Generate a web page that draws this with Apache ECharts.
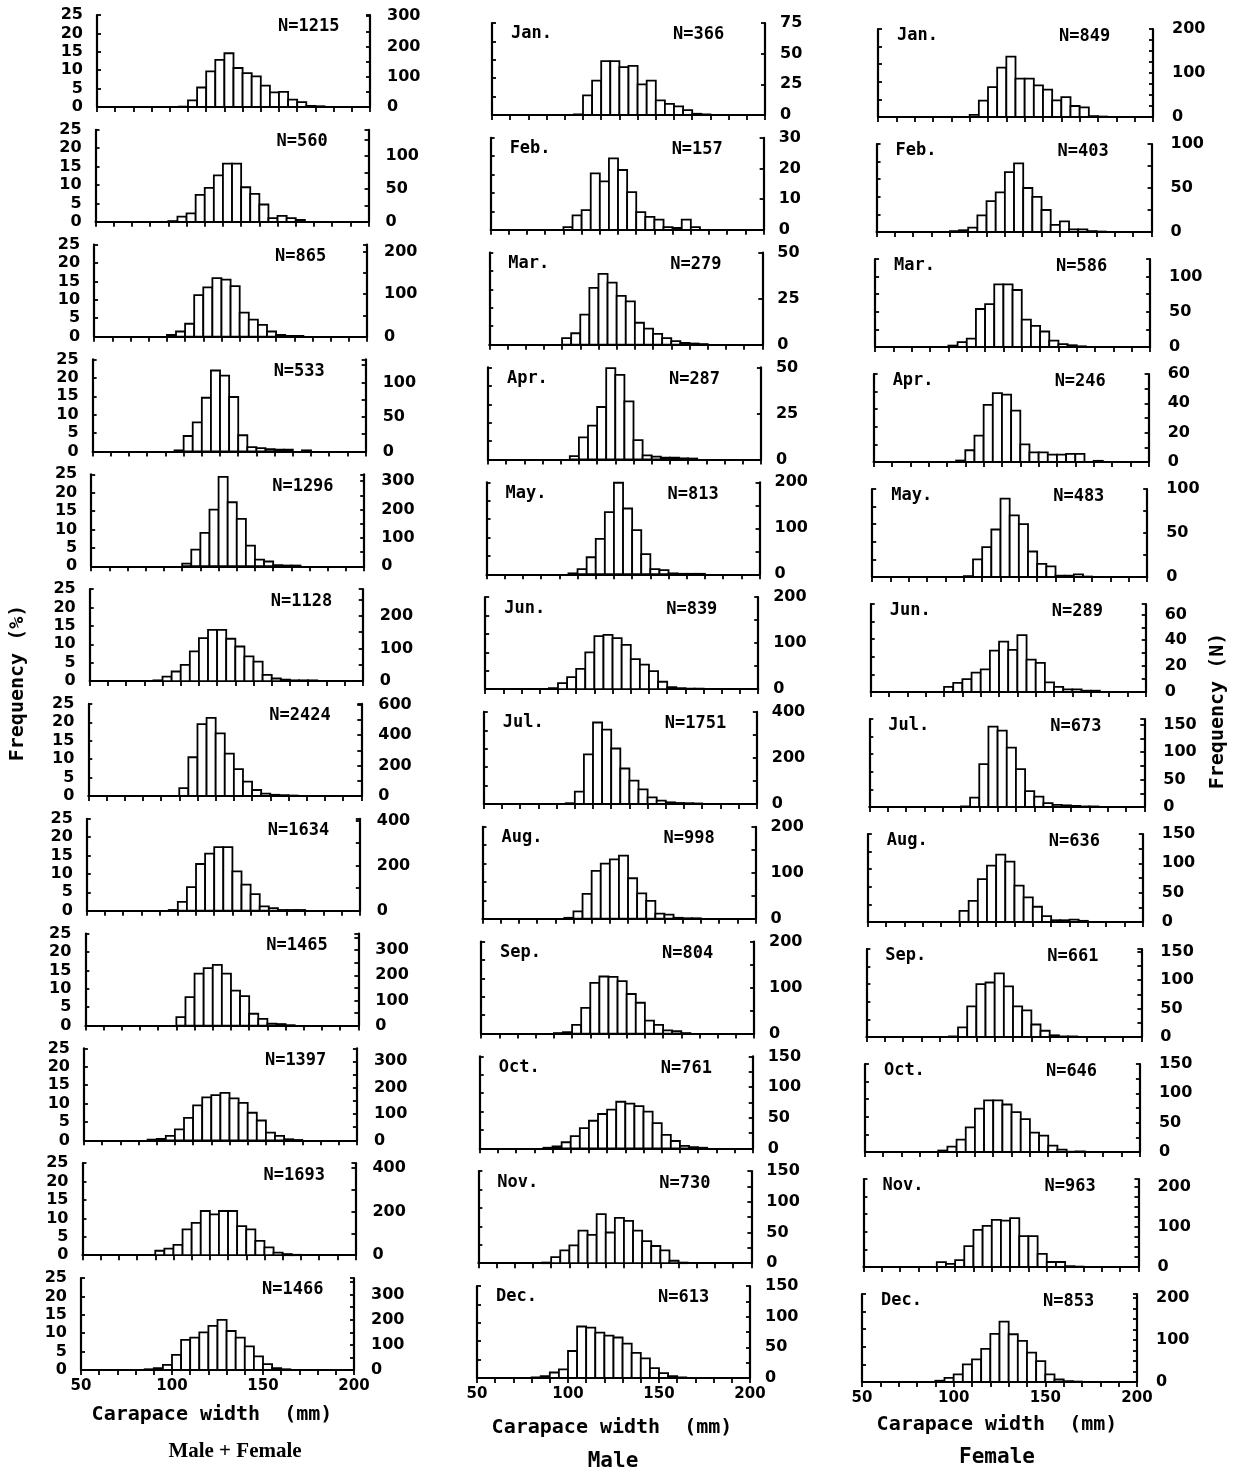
<!DOCTYPE html>
<html><head><meta charset="utf-8">
<script src="https://cdn.jsdelivr.net/npm/echarts@6/dist/echarts.min.js"></script>
<style>html,body{margin:0;padding:0;background:#fff}#c{width:1234px;height:1472px}</style>
</head><body><div id="c"></div>
<script>
// ---------- DATA ----------
const BIN_STARTS = [50,55,60,65,70,75,80,85,90,95,100,105,110,115,120,125,130,135,140,145,150,155,160,165,170,175,180,185,190,195];
const BIN_WIDTH = 5;
const MONTHS = ['Jan.','Feb.','Mar.','Apr.','May.','Jun.','Jul.','Aug.','Sep.','Oct.','Nov.','Dec.'];
const X_TICKS = [50,100,150,200];

// Male + Female, frequency (%)
const N_MF = [1215,560,865,533,1296,1128,2424,1634,1465,1397,1693,1466];
const MF_JAN = [0,0,0,0,0,0,0,0,0,0.1,1.8,5.3,9.7,12.8,14.6,10.6,9.2,8.3,5.8,4.0,4.1,2.0,1.3,0.3,0.2,0,0,0,0,0];
const MF_FEB = [0,0,0,0,0,0,0,0,0.2,1.4,2.3,7.3,9.2,12.6,15.8,15.8,9.4,7.6,4.7,1.0,1.6,1.0,0.5,0,0,0,0,0,0,0];
const MF_MAR = [0,0,0,0,0,0,0,0,0.5,1.4,3.5,11.3,13.4,15.9,15.5,13.7,6.5,4.6,3.2,1.4,0.5,0.2,0.2,0,0,0,0,0,0,0];
const MF_APR = [0,0,0,0,0,0,0,0,0,0.3,4.2,7.9,14.6,22.0,20.6,14.8,4.4,1.2,0.9,0.6,0.5,0.5,0,0.3,0,0,0,0,0,0];
const MF_MAY = [0,0,0,0,0,0,0,0,0,0,0.7,4.5,9.1,15.4,24.3,17.4,12.9,5.6,1.8,1.3,0.3,0.2,0.2,0,0,0,0,0,0,0];
const MF_JUN = [0,0,0,0,0,0,0,0.2,1.2,2.6,4.4,8.1,11.7,13.9,13.9,11.5,9.4,6.7,5.3,1.7,0.7,0.4,0.2,0.2,0.2,0,0,0,0,0];
const MF_JUL = [0,0,0,0,0,0,0,0,0,0,2.1,10.5,19.5,21.2,17.0,11.5,7.3,3.9,1.6,0.6,0.3,0.2,0.1,0,0,0,0,0,0,0];
const MF_AUG = [0,0,0,0,0,0,0,0,0,0.2,2.4,6.4,12.7,15.5,17.3,17.3,10.7,7.1,4.5,1.2,0.7,0.2,0.2,0.2,0,0,0,0,0,0];
const MF_SEP = [0,0,0,0,0,0,0,0,0,0,2.3,7.7,14.1,15.6,16.5,14.1,9.5,8.0,3.2,1.8,0.5,0.4,0.1,0,0,0,0,0,0,0];
const MF_OCT = [0,0,0,0,0,0,0,0.2,0.4,1.2,3.0,6.1,9.5,11.7,12.3,12.9,11.4,10.2,7.5,5.4,2.1,1.2,0.3,0.1,0,0,0,0,0,0];
const MF_NOV = [0,0,0,0,0,0,0,0,1.2,1.8,2.8,7.0,8.8,12.0,11.1,12.0,12.0,7.9,7.0,3.9,2.1,0.7,0.3,0.1,0,0,0,0,0,0];
const MF_DEC = [0,0,0,0,0,0,0,0.2,0.5,1.4,4.1,8.2,8.8,10.2,12.0,13.6,10.6,8.8,6.4,3.7,1.6,0.5,0.2,0,0,0,0,0,0,0];
const MF_RIGHT_LABEL_STEP = [100,50,100,50,100,100,200,200,100,100,200,100];
const MF_RIGHT_TICK_STEP  = [50,25,50,25,50,50,100,100,50,50,100,50];

// Male, frequency (N)
const N_M = [366,157,279,287,813,839,1751,998,804,761,730,613];
const M_JAN = [0,0,0,0,0,0,0,0,0,0.5,16,28,44,44,39,40,25,28,12,9,7,4,1,0.5,0,0,0,0,0,0];
const M_FEB = [0,0,0,0,0,0,0,0,0.9,4.7,6.4,18.4,15.8,23.3,19.5,12.3,5.8,4.2,3.3,0.9,0.6,3.3,0.9,0,0,0,0,0,0,0];
const M_MAR = [0,0,0,0,0,0,0,0,3.5,6.2,16.3,30.8,38.5,33.7,26.5,23.5,11.9,8.7,5.8,3.5,1.9,1,0.6,0.3,0,0,0,0,0,0];
const M_APR = [0,0,0,0,0,0,0,0,0,1.8,12,18.4,28.5,49.6,46,31.6,10.5,2.2,1.5,1,1,0.6,0.5,0,0,0,0,0,0,0];
const M_MAY = [0,0,0,0,0,0,0,0,0,2,11,37,77,135,199,143,96,44,11,9,2,1,1,1,0,0,0,0,0,0];
const M_JUN = [0,0,0,0,0,0,0,2,13,26,44,80,115,118,111,96,65,53,39,16,4,2,1,1,0,0,0,0,0,0];
const M_JUL = [0,0,0,0,0,0,0,0,0,3,53,215,354,323,241,154,101,63,28,14,7,4,3,2,0,0,0,0,0,0];
const M_AUG = [0,0,0,0,0,0,0,0,0,2,16,54,104,120,129,137,88,55,39,11,9,2,1,1,0,0,0,0,0,0];
const M_SEP = [0,0,0,0,0,0,0,0,1,3,19,56,110,124,123,114,86,67,28,19,7,5,1,0,0,0,0,0,0,0];
const M_OCT = [0,0,0,0,0,0,0,1,3,10,20,33,45,56,63,76,73,69,60,41,22,12,4,2,1,0,0,0,0,0];
const M_NOV = [0,0,0,0,0,0,0,1,10,21,29,53,46,80,50,74,69,53,36,28,21,4,1,0,0,0,0,0,0,0];
const M_DEC = [0,0,0,0,0,0,1,3,9,14,44,84,82,74,69,66,56,41,32,16,8,3,1,0,0,0,0,0,0,0];
const M_RIGHT_MAX        = [75,30,50,50,200,200,400,200,200,150,150,150];
const M_RIGHT_LABEL_STEP = [25,10,25,25,100,100,200,100,100,50,50,50];
const M_RIGHT_TICK_STEP  = [25,10,25,25,50,50,100,50,50,25,25,25];

// Female, frequency (N)
const N_F = [849,403,586,246,483,289,673,636,661,646,963,853];
const F_JAN = [0,0,0,0,0,0,0,0,0,0,5,37,68,112,137,87,87,72,62,38,45,25,22,2,1,0,0,0,0,0];
const F_FEB = [0,0,0,0,0,0,0,0,1,2,5,19,35,45,68,78,50,40,25,8,12,3,3,1,0.5,0,0,0,0,0];
const F_MAR = [0,0,0,0,0,0,0,0,2,7,12,54,61,89,89,81,39,30,22,9,4,2.5,1,0,0,0,0,0,0,0];
const F_APR = [0,0,0,0,0,0,0,0,0,1,8,18,39,47,46,35,12,6.5,6.5,5,5,5.5,5.5,0,0.8,0,0,0,0,0];
const F_MAY = [0,0,0,0,0,0,0,0,0,0,1,20,34,54,89,70,60,29,15,12,1.5,1.5,3,0.5,0,0,0,0,0,0];
const F_JUN = [0,0,0,0,0,0,0,0,4,7,10,15,17.5,32,39,32.5,44,25,22.5,7.5,4,2,2,1,1,0,0,0,0,0];
const F_JUL = [0,0,0,0,0,0,0,0,0,0,1,17,78,146,139,108,69,29,19,7,4,3,2,1,1,0,0,0,0,0];
const F_AUG = [0,0,0,0,0,0,0,0,0,0,19,36,73,96,115,103,62,42,26,10,3,3,4,2,0,0,0,0,0,0];
const F_SEP = [0,0,0,0,0,0,0,0,0,1,17,54,93,96,112,89,54,47,22,11,3,1,1,0,0,0,0,0,0,0];
const F_OCT = [0,0,0,0,0,0,0,0,2.5,9,21,42,74,88,88,81,68,56,33,28,11,4,0.5,1,0,0,0,0,0,0];
const F_NOV = [0,0,0,0,0,0,0,0,12,8,17,52,93,103,118,116,122,77,77,33,12.5,12.5,2,1,0,0,0,0,0,0];
const F_DEC = [0,0,0,0,0,0,0,0,3,10,18,42,54,79,115,144,114,98,70,50,18,6,2,1,0,0,0,0,0,0];
const F_RIGHT_MAX        = [200,100,125,60,100,68,160,150,155,150,220,210];
const F_RIGHT_LABEL_STEP = [100,50,50,20,50,20,50,50,50,50,100,100];
const F_RIGHT_TICK_STEP  = [25,25,25,10,25,10,25,25,25,25,25,25];

const MF_DATA = [MF_JAN,MF_FEB,MF_MAR,MF_APR,MF_MAY,MF_JUN,MF_JUL,MF_AUG,MF_SEP,MF_OCT,MF_NOV,MF_DEC];
const M_DATA = [M_JAN,M_FEB,M_MAR,M_APR,M_MAY,M_JUN,M_JUL,M_AUG,M_SEP,M_OCT,M_NOV,M_DEC];
const F_DATA = [F_JAN,F_FEB,F_MAR,F_APR,F_MAY,F_JUN,F_JUL,F_AUG,F_SEP,F_OCT,F_NOV,F_DEC];

// ---------- LAYOUT ----------
const MONO = 'DejaVu Sans Mono';
const COLS = [
  {kind:'mf', x0:97, x1:81, b0:107, b1:1370, h:92, w:273, rMargin:17, titleX:212, titleY:1415, subX:235, subY:1452, sub:'Male + Female', subFont:'bold 21px "Liberation Serif"'},
  {kind:'m', x0:492, x1:477, b0:115, b1:1378, h:92, w:273, rMargin:15, titleX:612, titleY:1428, subX:613, subY:1462, sub:'Male', subFont:'bold 21px "'+MONO+'"'},
  {kind:'f', x0:878, x1:862, b0:117, b1:1382, h:88, w:275, rMargin:19, titleX:997, titleY:1425, subX:997, subY:1458, sub:'Female', subFont:'bold 21px "'+MONO+'"'}
];
const LINE = '#000';
const TICK_FONT = 'DejaVu Sans';

function alignedFormatter(step){
  return function(v){
    const q = v/step;
    return Math.abs(q - Math.round(q)) < 1e-6 ? String(v) : '';
  };
}
function renderBar(params, api){
  const a = api.coord([api.value(0), api.value(2)]);
  const b = api.coord([api.value(1), 0]);
  return {type:'rect', shape:{x:a[0], y:a[1], width:b[0]-a[0], height:b[1]-a[1]},
    style:{fill:'#fff', stroke:LINE, lineWidth:1.8}};
}
function txt(x, y, text, font, align, rot){
  const el = {type:'text', x:x, y:y, z:10,
    style:{text:text, fill:LINE, font:font, textAlign:align, textVerticalAlign:'middle', align:align, verticalAlign:'middle'}};
  if(rot) el.rotation = rot;
  return el;
}

const grid=[], xAxis=[], yAxis=[], series=[], graphic=[];
let gi = 0;
COLS.forEach(function(col){
  for(let r=0;r<12;r++){
    const gx = col.x0 + (col.x1-col.x0)*r/11;
    const base = col.b0 + (col.b1-col.b0)*r/11;
    const top = base - col.h;
    grid.push({left:gx, top:top, width:col.w, height:col.h});
    xAxis.push({type:'value', gridIndex:gi, min:50, max:200, interval:10,
      axisLine:{show:true, onZero:false, lineStyle:{color:LINE, width:2.2}},
      axisTick:{show:true, inside:false, length:5, lineStyle:{color:LINE, width:1.8}},
      axisLabel:{show:r===11, margin:9, color:LINE, fontFamily:TICK_FONT, fontWeight:'bold', fontSize:15,
        formatter:function(v){return X_TICKS.indexOf(v)>=0 ? String(v) : '';}},
      splitLine:{show:false}});
    let leftAxis, rightAxis, data, N;
    if(col.kind==='mf'){
      N = N_MF[r]; data = MF_DATA[r];
      leftAxis = {type:'value', gridIndex:gi, position:'left', min:0, max:25, interval:5,
        axisLine:{show:true, lineStyle:{color:LINE, width:2.2}},
        axisTick:{show:true, inside:true, length:4, lineStyle:{color:LINE, width:1.8}},
        axisLabel:{show:true, margin:14, color:LINE, fontFamily:TICK_FONT, fontWeight:'bold', fontSize:16},
        splitLine:{show:false}};
      rightAxis = {max:N/4, tick:MF_RIGHT_TICK_STEP[r], label:MF_RIGHT_LABEL_STEP[r]};
    } else {
      const isM = col.kind==='m';
      N = isM ? N_M[r] : N_F[r]; data = isM ? M_DATA[r] : F_DATA[r];
      leftAxis = {type:'value', gridIndex:gi, position:'left', min:0, max:5, interval:1,
        axisLine:{show:true, lineStyle:{color:LINE, width:2.2}},
        axisTick:{show:true, inside:true, length:4, lineStyle:{color:LINE, width:1.8}},
        axisLabel:{show:false}, splitLine:{show:false}};
      rightAxis = {max: isM ? M_RIGHT_MAX[r] : F_RIGHT_MAX[r],
        tick: isM ? M_RIGHT_TICK_STEP[r] : F_RIGHT_TICK_STEP[r],
        label: isM ? M_RIGHT_LABEL_STEP[r] : F_RIGHT_LABEL_STEP[r]};
    }
    yAxis.push(leftAxis);
    yAxis.push({type:'value', gridIndex:gi, position:'right', min:0, max:rightAxis.max, interval:rightAxis.tick,
      axisLine:{show:true, lineStyle:{color:LINE, width:2.2}},
      axisTick:{show:true, inside:true, length:4, lineStyle:{color:LINE, width:1.8}},
      axisLabel:{show:true, margin:col.rMargin, color:LINE, fontFamily:TICK_FONT, fontWeight:'bold', fontSize:16,
        formatter:alignedFormatter(rightAxis.label)},
      splitLine:{show:false}});
    const barData = [];
    BIN_STARTS.forEach(function(s,k){ if(data[k]>0) barData.push([s, s+BIN_WIDTH, data[k]]); });
    series.push({type:'custom', coordinateSystem:'cartesian2d', xAxisIndex:gi,
      yAxisIndex: col.kind==='mf' ? 2*gi : 2*gi+1,
      encode:{x:[0,1], y:2}, renderItem:renderBar, data:barData, silent:true, z:1});
    graphic.push(txt(gx+181, base-80, 'N='+N, 'bold 17px "'+MONO+'"', 'left'));
    if(col.kind!=='mf'){
      graphic.push(txt(gx+19, base-81, MONTHS[r], 'bold 17px "'+MONO+'"', 'left'));
    }
    gi++;
  }
  graphic.push(txt(col.titleX, col.titleY, 'Carapace width  (mm)', 'bold 20px "'+MONO+'"', 'center'));
  graphic.push(txt(col.subX, col.subY, col.sub, col.subFont, 'center'));
});
graphic.push(txt(18, 683, 'Frequency (%)', 'bold 20px "'+MONO+'"', 'center', Math.PI/2));
graphic.push(txt(1218, 711, 'Frequency (N)', 'bold 20px "'+MONO+'"', 'center', Math.PI/2));

const chart = echarts.init(document.getElementById('c'), null, {renderer:'canvas', width:1234, height:1472});
chart.setOption({
  backgroundColor:'#fff',
  animation:false,
  grid:grid, xAxis:xAxis, yAxis:yAxis, series:series, graphic:graphic
});
</script></body></html>
